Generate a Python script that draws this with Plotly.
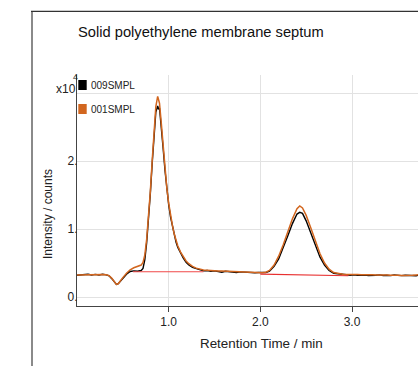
import plotly.graph_objects as go

# ---- data ----
t_001 = [0.00, 0.04, 0.08, 0.12, 0.16, 0.20, 0.24, 0.28, 0.32, 0.35, 0.38, 0.41, 0.43, 0.45, 0.47, 0.50,
         0.54, 0.58, 0.62, 0.66, 0.70, 0.72, 0.74, 0.76, 0.78, 0.80, 0.82, 0.84, 0.86, 0.88, 0.90, 0.92,
         0.94, 0.96, 0.98, 1.00, 1.02, 1.04, 1.06, 1.08, 1.10, 1.13, 1.16, 1.19, 1.22, 1.26, 1.30, 1.34,
         1.38, 1.42, 1.46, 1.50, 1.54, 1.58, 1.62, 1.66, 1.70, 1.74, 1.78, 1.82, 1.86, 1.90, 1.94, 1.98,
         2.02, 2.06, 2.10, 2.15, 2.20, 2.25, 2.30, 2.35, 2.40, 2.43, 2.46, 2.50, 2.55, 2.60, 2.65, 2.70,
         2.75, 2.80, 2.85, 2.90, 2.94, 2.98, 3.02, 3.06, 3.10, 3.14, 3.18, 3.22, 3.26, 3.30, 3.34, 3.38,
         3.42, 3.46, 3.50, 3.54, 3.58, 3.62, 3.66, 3.70, 3.72]
v_001 = [3250, 3270, 3240, 3300, 3280, 3310, 3290, 3320, 3270, 3150, 2750, 2200, 1850, 1950, 2250, 2850,
         3500, 4000, 4300, 4450, 4700, 5100, 6200, 8500, 11500, 15500, 20000, 24500, 28000, 29500, 28500, 25500,
         22000, 18800, 16000, 13800, 12000, 10600, 9300, 8300, 7500, 6600, 5900, 5300, 4900, 4500, 4250, 4100,
         3980, 3950, 3880, 3900, 3840, 3820, 3790, 3800, 3740, 3760, 3700, 3720, 3660, 3680, 3620, 3600,
         3580, 3650, 3900, 4700, 6000, 7700, 9600, 11500, 13000, 13400, 13100, 12000, 10200, 8200, 6400, 5000,
         4100, 3600, 3420, 3350, 3300, 3320, 3280, 3300, 3260, 3290, 3240, 3270, 3230, 3260, 3220, 3250,
         3200, 3240, 3210, 3180, 3230, 3190, 3220, 3250, 3260]

t_009 = [0.00, 0.04, 0.08, 0.12, 0.16, 0.20, 0.24, 0.28, 0.32, 0.35, 0.38, 0.41, 0.43, 0.45, 0.47, 0.50,
         0.54, 0.58, 0.62, 0.66, 0.70, 0.72, 0.74, 0.76, 0.78, 0.80, 0.82, 0.84, 0.86, 0.88, 0.89, 0.90,
         0.92, 0.94, 0.96, 0.98, 1.00, 1.02, 1.04, 1.06, 1.08, 1.10, 1.13, 1.16, 1.19, 1.22, 1.26, 1.30,
         1.34, 1.38, 1.42, 1.46, 1.50, 1.54, 1.58, 1.62, 1.66, 1.70, 1.74, 1.78, 1.82, 1.86, 1.90, 1.94,
         1.98, 2.02, 2.06, 2.10, 2.15, 2.20, 2.25, 2.30, 2.35, 2.40, 2.43, 2.46, 2.50, 2.55, 2.60, 2.65,
         2.70, 2.75, 2.80, 2.85, 2.90, 2.94, 2.98, 3.02, 3.06, 3.10, 3.14, 3.18, 3.22, 3.26, 3.30, 3.34,
         3.38, 3.42, 3.46, 3.50, 3.54, 3.58, 3.62, 3.66, 3.70, 3.72]
v_009 = [3200, 3260, 3220, 3350, 3240, 3330, 3250, 3340, 3260, 3120, 2700, 2150, 1850, 1950, 2250, 2800,
         3350, 3750, 3850, 3800, 3900, 4200, 5500, 8000, 11200, 15200, 19600, 24000, 27200, 28100, 27600, 27800,
         25200, 21800, 18600, 15800, 13600, 11800, 10400, 9200, 8100, 7300, 6400, 5700, 5100, 4700, 4350, 4150,
         3950, 3850, 3900, 3800, 3850, 3780, 3650, 3780, 3720, 3760, 3600, 3700, 3650, 3600, 3660, 3580,
         3600, 3560, 3600, 3800, 4500, 5600, 7200, 9000, 10800, 12200, 12450, 12300, 11200, 9500, 7600, 5900,
         4700, 3900, 3500, 3380, 3300, 3270, 3200, 3250, 3180, 3240, 3220, 3150, 3230, 3200, 3260, 3170,
         3210, 3150, 3230, 3180, 3140, 3200, 3160, 3190, 3120, 3200]

# integration baselines
base1_t = [0.61, 1.38]
base1_v = [3720, 3720]
base2_t = [2.00, 2.96]
base2_v = [3380, 3130]

series_names = ["009SMPL", "001SMPL"]
series_colors = ["#000000", "#D2661F"]
x_tickvals = [1.0, 2.0, 3.0]
x_ticktext = ["1.0", "2.0", "3.0"]
y_tickvals = [0, 10000, 20000, 30000]
y_ticktext = ["0.", "1.", "2.", ""]

# ---- geometry helpers ----
W, H = 418, 366
ML, MR, MT, MB = 77, 0, 75, 60
PW, PH = W - ML - MR, H - MT - MB


def px(x):
    return (x - ML) / PW


def py(y):
    return (H - MB - y) / PH


FONT = "Liberation Sans, Arial, sans-serif"

fig = go.Figure()
fig.add_trace(go.Scatter(x=t_009, y=v_009, mode="lines", line=dict(color=series_colors[0], width=1.4),
                         name=series_names[0], showlegend=False))
fig.add_trace(go.Scatter(x=t_001, y=v_001, mode="lines", line=dict(color=series_colors[1], width=1.5),
                         name=series_names[1], showlegend=False))
fig.add_trace(go.Scatter(x=base1_t, y=base1_v, mode="lines", line=dict(color="#F04848", width=1.2),
                         showlegend=False))
fig.add_trace(go.Scatter(x=base2_t, y=base2_v, mode="lines", line=dict(color="#E83030", width=1.2),
                         showlegend=False))

fig.update_layout(
    width=W, height=H,
    margin=dict(l=ML, r=MR, t=MT, b=MB),
    paper_bgcolor="white", plot_bgcolor="white",
    font=dict(family=FONT, size=12, color="#222"),
    showlegend=False,
)
fig.update_xaxes(range=[0.0, 3.72], tickvals=x_tickvals, ticktext=x_ticktext,
                 showgrid=True, gridcolor="#E2E2E2", gridwidth=1, zeroline=False,
                 showline=True, linecolor="#444", linewidth=1,
                 ticks="outside", ticklen=5, tickcolor="#444",
                 tickfont=dict(size=12, color="#222"))
fig.update_yaxes(range=[-1320, 32650], tickvals=y_tickvals, ticktext=y_ticktext,
                 showgrid=True, gridcolor="#E2E2E2", gridwidth=1, zeroline=False,
                 showline=True, linecolor="#444", linewidth=1,
                 ticks="", ticklabelstandoff=-4,
                 tickfont=dict(size=12, color="#222"))

ann = []
ann.append(dict(text="Solid polyethylene membrane septum", x=px(76), y=py(32), xref="paper", yref="paper",
                xanchor="left", yanchor="middle", showarrow=False, font=dict(size=14.7, color="#111")))
ann.append(dict(text="Retention Time / min", x=px(261.5), y=py(343), xref="paper", yref="paper",
                xanchor="center", yanchor="middle", showarrow=False, font=dict(size=13.4, color="#222")))
ann.append(dict(text="Intensity / counts", x=px(48), y=py(214), xref="paper", yref="paper",
                xanchor="center", yanchor="middle", textangle=-90, showarrow=False,
                font=dict(size=12, color="#222")))
ann.append(dict(text="x10", x=px(78), y=py(89), xref="paper", yref="paper",
                xanchor="right", yanchor="middle", showarrow=False, font=dict(size=12, color="#222")))
leg_y = [85, 109]
for name, col, yc in zip(series_names, series_colors, leg_y):
    ann.append(dict(text=name, x=px(88.5), y=py(yc), xref="paper", yref="paper",
                    xanchor="left", yanchor="middle", showarrow=False, font=dict(size=10, color="#222")))
ann.append(dict(text="4", x=px(75.5), y=py(77), xref="paper", yref="paper",
                xanchor="center", yanchor="middle", showarrow=False, font=dict(size=9, color="#222")))

shapes = []
for col, yc in zip(series_colors, leg_y):
    shapes.append(dict(type="rect", xref="paper", yref="paper", x0=px(78.3), x1=px(86.7),
                       y0=py(yc - 5), y1=py(yc + 5), fillcolor=col, line=dict(width=0)))
# outer frame (partially visible)
shapes.append(dict(type="line", xref="paper", yref="paper", x0=px(32), x1=px(32), y0=py(11), y1=py(366),
                   line=dict(color="#8A8A8A", width=2)))
shapes.append(dict(type="line", xref="paper", yref="paper", x0=px(31), x1=px(418), y0=py(11.3), y1=py(11.3),
                   line=dict(color="#333", width=1.3)))

fig.update_layout(annotations=ann, shapes=shapes)
fig.write_html("out.html")
